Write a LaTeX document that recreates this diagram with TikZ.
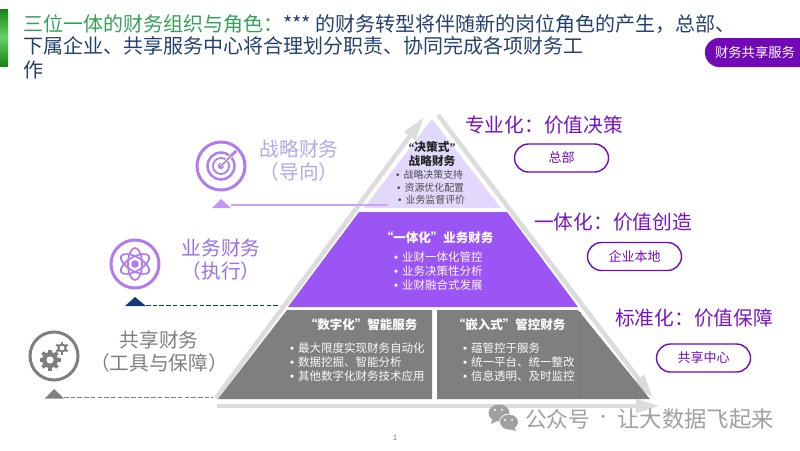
\documentclass[tikz,border=0pt]{standalone}
\usepackage{fontspec}
\setmainfont{Noto Sans CJK SC}
\newfontfamily\quotefont{Liberation Serif}
\newfontfamily\pagefont{Liberation Sans}
\usetikzlibrary{arrows.meta}
\definecolor{titlegreen}{HTML}{35A05A}
\definecolor{titlenavy}{HTML}{24406E}
\definecolor{bandgray}{HTML}{DCDCDC}
\definecolor{layergray}{HTML}{7F7F7F}
\definecolor{layerpurple}{HTML}{9B55F5}
\definecolor{toppurple}{HTML}{E2D8FB}
\definecolor{deeppurple}{HTML}{7209B7}
\definecolor{iconpurple}{HTML}{B07CF0}
\definecolor{midpurple}{HTML}{9A70E6}
\definecolor{softpurple}{HTML}{B0A8EA}
\definecolor{markpurple}{HTML}{C9A6F5}
\definecolor{marknavy}{HTML}{12397F}
\definecolor{wmgray}{HTML}{A0A0A0}
\newcommand{\fs}[1]{\fontsize{#1}{#1}\selectfont}
\newcommand{\qL}{{\quotefont “}}
\newcommand{\qR}{{\quotefont ”}}
\newcommand{\bul}{{\pagefont •}\hspace{4pt}}
\tikzset{
	titletext/.style={anchor=west, inner sep=0pt, font=\fs{20}, text=titlenavy},
	rolelabel/.style={inner sep=0pt, font=\fs{19.7}},
	valuelabel/.style={inner sep=0pt, anchor=west, font=\fs{19.7}, text=deeppurple!85!layerpurple},
	pill/.style={draw=deeppurple, line width=1.4pt, rounded corners=14pt, minimum width=94pt, minimum height=28pt, inner sep=0pt, text=deeppurple, font=\fs{13}},
	layerhead/.style={inner sep=0pt, font=\fs{12.5}\bfseries, text=white},
	layeritem/.style={inner sep=0pt, anchor=west, font=\fs{11.5}, text=white!88!toppurple},
	topitem/.style={inner sep=0pt, anchor=west, font=\fs{9.9}, text=black!70},
	band/.style={bandgray, line width=4.5pt, -{Triangle[width=13pt,length=24pt]}},
	iconring/.style={line width=3pt, fill=white}
}
\begin{document}
\begin{tikzpicture}[x=1pt,y=-1pt]
	\useasboundingbox (0,0) rectangle (800,450);
	% 标题
	\shade[top color=green!45!black!90, bottom color=green!45!black!90, middle color=green!70!black!60!white] (0,9) rectangle (8,66);
	\node[titletext] (title1) at (23,24) {\textcolor{titlegreen}{三位一体的财务组织与角色：}*** 的财务转型将伴随新的岗位角色的产生，总部、};
	\node[titletext] (title2) at (23,46) {下属企业、共享服务中心将合理划分职责、协同完成各项财务工};
	\node[titletext] (title3) at (23,70) {作};
	\fill[deeppurple, rounded corners=14pt] (820,38) -- (705,38) -- (705,67) -- (820,67) -- cycle;
	\node[inner sep=0pt, font=\fs{13.3}, text=white] (badge) at (755,52) {财务共享服务};

	% 灰色箭头
	\coordinate (leftstart) at (216,398);
	\coordinate (lefttip) at (424,117);
	\coordinate (rightstart) at (438,115);
	\coordinate (righttip) at (653,398);
	\coordinate (basestart) at (217,406);
	\coordinate (basetip) at (660,406);
	\draw[band] (leftstart) -- (lefttip);
	\draw[band] (rightstart) -- (righttip);
	\draw[band] (basestart) -- (basetip);

	% 金字塔三层
	\fill[toppurple] (432,119) -- (501,208) -- (364,208) -- cycle;
	\fill[layerpurple] (359,212) -- (507,212) -- (578,307) -- (288,307) -- cycle;
	\fill[layergray] (287,310) -- (432,310) -- (432,399) -- (218,399) -- cycle;
	\fill[layergray] (437,310) -- (578,310) -- (650,399) -- (437,399) -- cycle;
	\draw[black!38!layergray!75!white, line width=0.4pt] (580,312) -- (580,399);

	% 顶层文字
	\node[inner sep=0pt, font=\fs{11.7}\bfseries, text=black!85] (tophead1) at (432,147) {\qL 决策式\qR};
	\node[inner sep=0pt, font=\fs{11.7}\bfseries, text=black!85] (tophead2) at (432,161) {战略财务};
	\node[topitem] (topitem1) at (396,175) {\bul 战略决策支持};
	\node[topitem] (topitem2) at (397,188) {\bul 资源优化配置};
	\node[topitem] (topitem3) at (398,200) {\bul 业务监督评价};

	% 中层文字
	\node[layerhead] (midhead) at (437,238) {“一体化”业务财务};
	\node[layeritem] (miditem1) at (394,257) {\bul 业财一体化管控};
	\node[layeritem] (miditem2) at (394,271) {\bul 业务决策性分析};
	\node[layeritem] (miditem3) at (394,285) {\bul 业财融合式发展};

	% 底层文字
	\node[layerhead] (lowhead1) at (361,325) {“数字化”智能服务};
	\node[layeritem] (lowitem1) at (290,348) {\bul 最大限度实现财务自动化};
	\node[layeritem] (lowitem2) at (290,362) {\bul 数据挖掘、智能分析};
	\node[layeritem] (lowitem3) at (290,376) {\bul 其他数字化财务技术应用};
	\node[layerhead] (lowhead2) at (509,325) {“嵌入式”管控财务};
	\node[layeritem] (lowitem4) at (463,348) {\bul 蕴管控于服务};
	\node[layeritem] (lowitem5) at (463,362) {\bul 统一平台、统一整改};
	\node[layeritem] (lowitem6) at (463,376) {\bul 信息透明、及时监控};

	% 右侧标签
	\node[valuelabel] (value1) at (465,125) {专业化：价值决策};
	\node[pill] (pill1) at (561.5,158) {总部};
	\node[valuelabel] (value2) at (534,222) {一体化：价值创造};
	\node[pill] (pill2) at (634.5,256.5) {企业本地};
	\node[valuelabel] (value3) at (615,318) {标准化：价值保障};
	\node[pill] (pill3) at (703.5,358) {共享中心};

	% 左侧标签
	\node[rolelabel, text=softpurple] (role1) at (299,149) {战略财务};
	\node[rolelabel, text=softpurple] (role1b) at (299,172) {（导向）};
	\node[rolelabel, text=midpurple] (role2) at (221,248) {业务财务};
	\node[rolelabel, text=midpurple] (role2b) at (221,271) {（执行）};
	\node[rolelabel, text=layergray] (role3) at (159,340) {共享财务};
	\node[rolelabel, text=layergray] (role3b) at (159,363) {（工具与保障）};

	% 标记三角与连线
	\fill[markpurple!80!layerpurple] (221,199) -- (231,208) -- (212,208) -- cycle;
	\coordinate (mark1) at (231,205);
	\coordinate (end1) at (388,205);
	\draw[markpurple, line width=1.6pt] (mark1) -- (end1);
	\fill[marknavy] (135,297) -- (146,306) -- (125,306) -- cycle;
	\coordinate (mark2) at (146,305.5);
	\coordinate (end2) at (280,305.5);
	\draw[marknavy, line width=1.3pt, dash pattern=on 4.5pt off 2.2pt] (mark2) -- (end2);
	\fill[layergray] (54,389) -- (64,398.5) -- (45,398.5) -- cycle;
	\coordinate (mark3) at (64,397.5);
	\coordinate (end3) at (213,397.5);
	\draw[layergray, line width=1.3pt, dash pattern=on 4.5pt off 2.2pt] (mark3) -- (end3);

	% 靶心图标
	\draw[iconpurple, iconring] (221,166) circle (24);
	\draw[iconpurple, line width=2.4pt] (221,166) circle (13.5);
	\draw[iconpurple, line width=1.8pt] (221,166) circle (8);
	\fill[iconpurple] (221,166) circle (3.2);
	\draw[white, line width=3.5pt] (221,166) -- (236,151);
	\draw[iconpurple, line width=1.6pt] (221,166) -- (233,154);
	\draw[iconpurple, line width=2.6pt] (231,156) -- (236,151);

	% 原子图标
	\draw[iconpurple, iconring] (135,264) circle (24);
	\foreach \ang in {30,90,150}
		\draw[iconpurple, line width=1.7pt, rotate around={\ang:(135,264)}] (135,264) ellipse (16 and 7);
	\fill[iconpurple] (135,264) circle (3.8);

	% 齿轮图标
	\draw[layergray, iconring] (54,356) circle (24);
	\fill[layergray] (50,360) circle (8);
	\foreach \ang in {0,45,...,315}
		\draw[layergray, line width=3.6pt, rotate around={\ang:(50,360)}] (50,360) -- (50,349.5);
	\fill[white] (50,360) circle (3.6);
	\fill[layergray] (62,348) circle (4.6);
	\foreach \ang in {0,60,...,300}
		\draw[layergray, line width=2.2pt, rotate around={\ang:(62,348)}] (62,348) -- (62,341.5);
	\fill[white] (62,348) circle (2.3);

	% 水印
	\fill[wmgray] (499,413) ellipse (10.5 and 8.5);
	\fill[wmgray] (493,418) -- (491,424) -- (499,420) -- cycle;
	\filldraw[wmgray, draw=white, line width=0.8pt] (509,422) ellipse (9.5 and 8);
	\fill[wmgray] (514,427) -- (516,431) -- (509,429) -- cycle;
	\fill[white] (495,410) circle (1.2) (502,410) circle (1.2) (505,420) circle (1.1) (512,420) circle (1.1);
	\node[inner sep=0pt, anchor=west, font=\fs{21.7}, text=wmgray] (wm1) at (525,419) {公众号};
	\node[inner sep=0pt, font=\fs{15}, text=wmgray] (wmdot) at (603,419) {·};
	\node[inner sep=0pt, anchor=west, font=\fs{22.4}, text=wmgray] (wm2) at (617,419) {让大数据飞起来};

	% 页码
	\node[inner sep=0pt, font=\pagefont\fs{8}, text=layergray] (pagenum) at (395,438) {1};
\end{tikzpicture}
\end{document}
